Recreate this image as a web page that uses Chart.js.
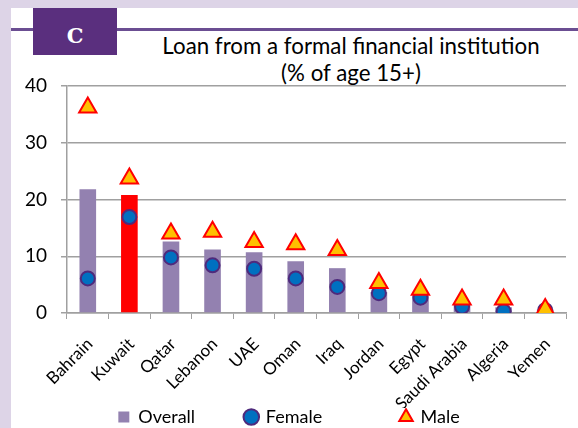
<!DOCTYPE html>
<html>
<head>
<meta charset="utf-8">
<script src="https://cdn.jsdelivr.net/npm/chart.js@4.4.1/dist/chart.umd.min.js"></script>
<style>
  body { margin: 0; background: #ddd4e7; width: 578px; height: 428px; overflow: hidden; font-family: Lato, sans-serif; }
  #panel { position: absolute; left: 11px; top: 8px; width: 567px; height: 420px; background: #fff; }
  #rule { position: absolute; left: 11px; top: 28px; width: 567px; height: 3px; background: #6b4e92; }
  #tag { position: absolute; left: 33px; top: 8px; width: 84px; height: 47px; background: #5a2f7e;
         color: #fff; font: bold 21px "DejaVu Serif", serif; text-align: center; line-height: 56px; overflow: hidden; }
  #title { position: absolute; left: 151px; top: 32px; width: 400px; text-align: center;
           font-size: 22.3px; line-height: 27px; color: #000; }
  #c { position: absolute; left: 0; top: 0; }
</style>
</head>
<body>
<div id="panel"></div>
<div id="rule"></div>
<div id="tag">C</div>
<div id="title">Loan from a formal financial institution<br>(% of age 15+)</div>
<canvas id="c" width="578" height="436"></canvas>
<script>
const countries = ["Bahrain", "Kuwait", "Qatar", "Lebanon", "UAE", "Oman", "Iraq",
                   "Jordan", "Egypt", "Saudi Arabia", "Algeria", "Yemen"];
const overall = [21.8, 20.8, 12.6, 11.2, 10.7, 9.1, 7.9, 3.7, 3.0, 1.5, 1.0, 0.6];
const female = [6.1, 16.9, 9.8, 8.4, 7.8, 6.1, 4.6, 3.5, 2.7, 1.1, 0.3, 0.5];
const male = [36.2, 23.7, 14.0, 14.3, 12.5, 12.1, 11.1, 5.3, 4.1, 2.4, 2.4, 0.7];
const yTicks = [0, 10, 20, 30, 40];

const purple = "#9381b0";
const barColors = countries.map(c => c === "Kuwait" ? "#ff0000" : purple);
const gridGray = "#a0a0a0";
const legendGap = [11, 17, 0];

const chart = new Chart(document.getElementById("c"), {
  type: "bar",
  data: {
    labels: countries,
    datasets: [
      {
        label: "Overall",
        data: overall,
        backgroundColor: barColors,
        borderWidth: 0,
        pointStyle: "rect",
        barPercentage: 0.8,
        categoryPercentage: 0.5,
        order: 3
      },
      {
        type: "line",
        label: "Female",
        data: female,
        showLine: false,
        pointStyle: "circle",
        pointRadius: 7,
        pointBorderWidth: 2,
        backgroundColor: "#0070c0",
        borderColor: "#4e2a7c",
        order: 2
      },
      {
        type: "line",
        label: "Male",
        data: male,
        showLine: false,
        pointStyle: "triangle",
        pointRadius: 10,
        pointBorderWidth: 2,
        backgroundColor: "#ffc000",
        borderColor: "#ff0000",
        order: 1
      }
    ]
  },
  options: {
    responsive: false,
    animation: false,
    layout: { padding: { left: 0, top: 86, right: 0, bottom: 0 } },
    plugins: {
      title: { display: false },
      tooltip: { enabled: false },
      legend: {
        position: "bottom",
        labels: {
          usePointStyle: true,
          boxWidth: 11,
          boxHeight: 11,
          padding: 0,
          color: "#000",
          font: { family: "Lato", size: 18 },
          sort: (a, b) => a.datasetIndex - b.datasetIndex,
          generateLabels: function (ch) {
            const items = Chart.defaults.plugins.legend.labels.generateLabels(ch);
            items.forEach(it => {
              it.text = it.text + "\u00a0".repeat(legendGap[it.datasetIndex]);
            });
            return items;
          }
        }
      }
    },
    scales: {
      x: {
        grid: { display: true, drawOnChartArea: false, offset: true, tickLength: 6, color: gridGray },
        border: { color: gridGray, width: 1.5 },
        ticks: {
          color: "#000",
          font: { family: "Lato", size: 17 },
          maxRotation: 45,
          minRotation: 45,
          autoSkip: false,
          padding: 15,
          labelOffset: 2
        },
        afterFit: s => { s.height = 95; }
      },
      y: {
        min: 0,
        max: 40,
        afterBuildTicks: s => { s.ticks = yTicks.map(v => ({ value: v })); },
        grid: { color: gridGray, lineWidth: 1.5, tickLength: 6 },
        border: { color: gridGray, width: 1.5 },
        ticks: { color: "#000", font: { family: "Lato", size: 19 }, padding: 14 },
        afterFit: s => { s.width = 67; }
      }
    }
  }
});
</script>
</body>
</html>
